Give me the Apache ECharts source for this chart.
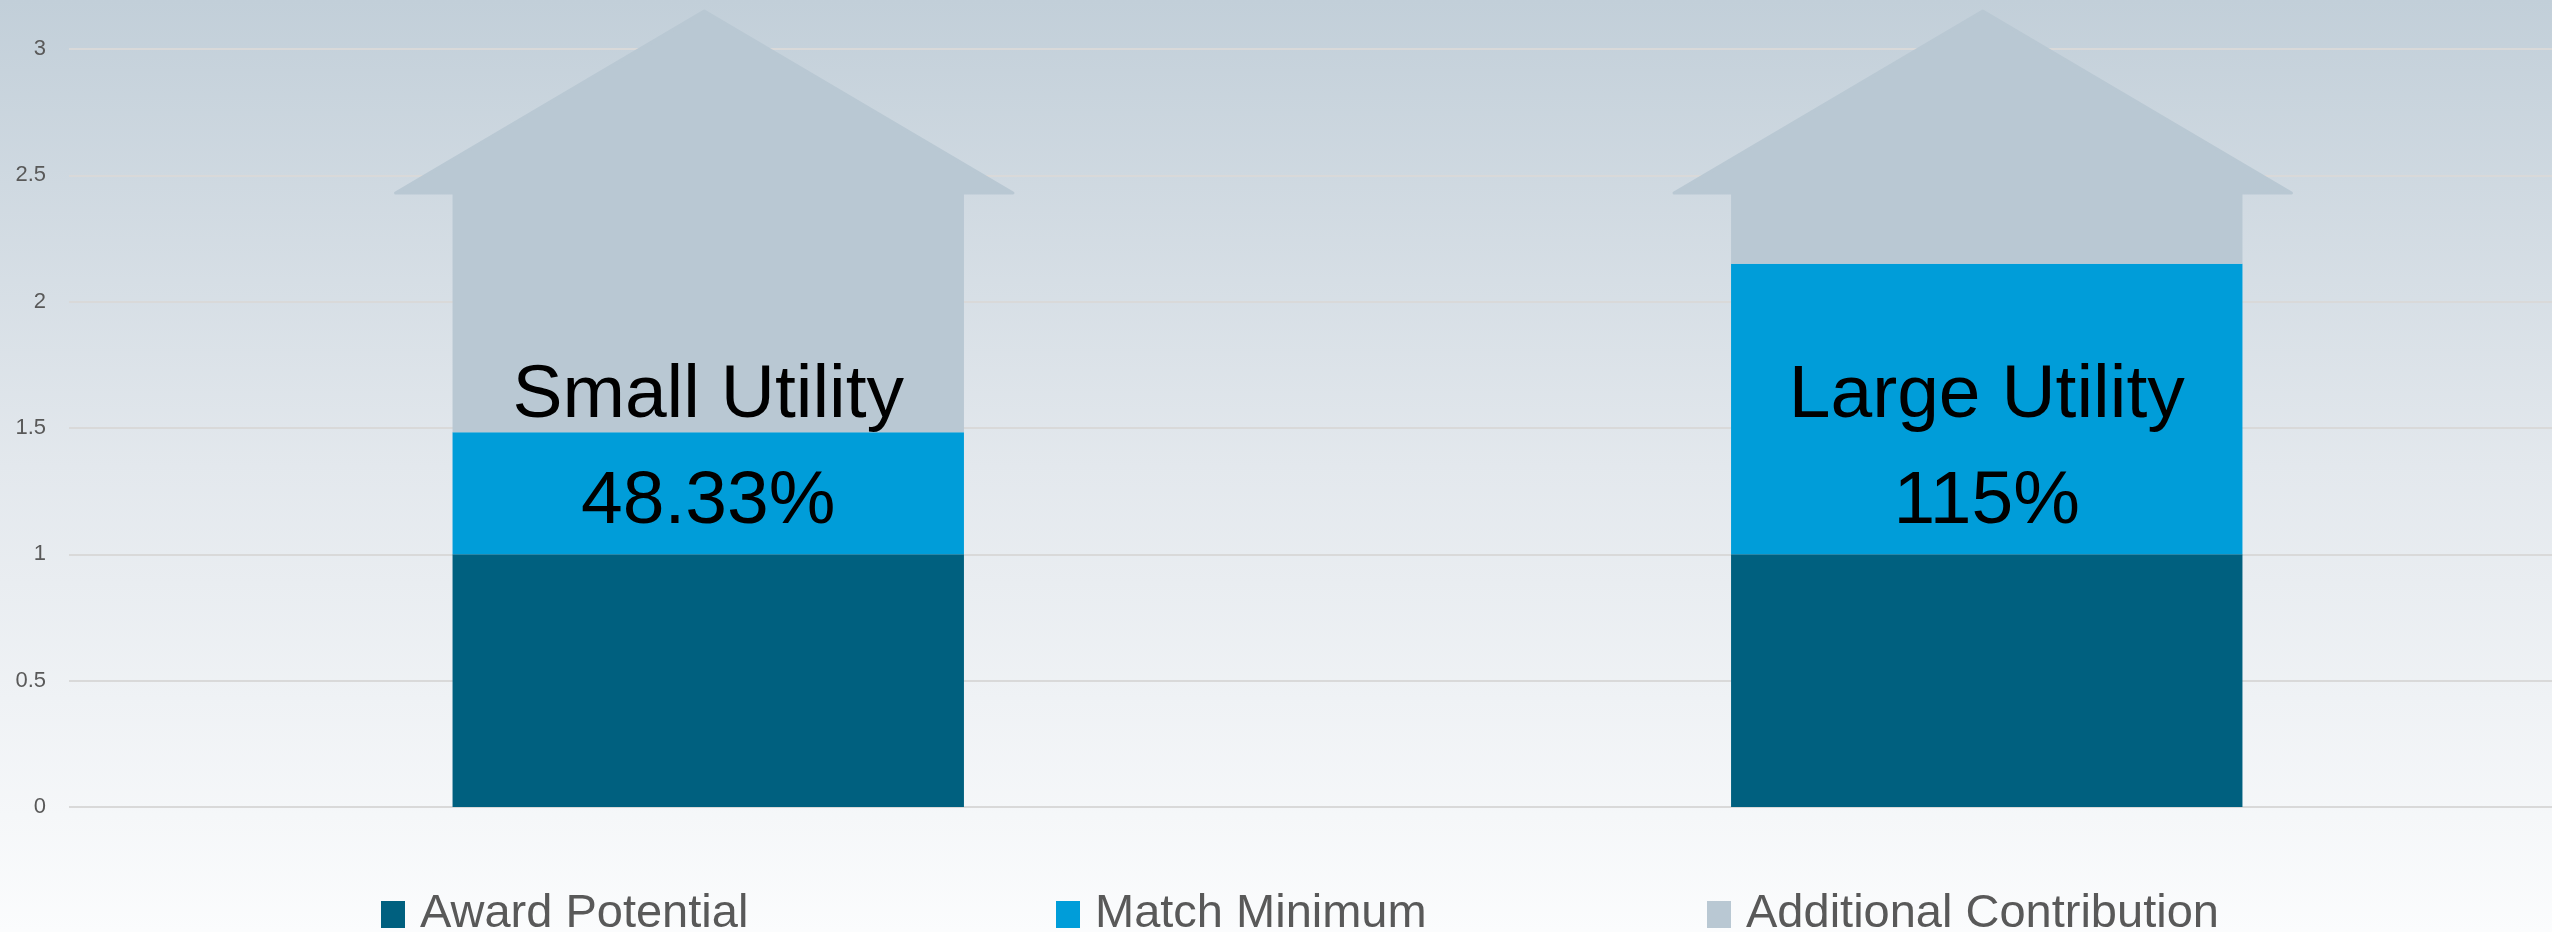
<!DOCTYPE html>
<html lang="en">
<head>
<meta charset="UTF-8">
<title>Utility Contribution</title>
<script src="https://cdn.jsdelivr.net/npm/echarts@6/dist/echarts.min.js"></script>
<style>
    html, body { margin: 0; padding: 0; }
    #chart { width: 2552px; height: 932px; }
</style>
</head>
<body>
<div id="chart"></div>
<script>
    // data
    const categories = ['Small Utility', 'Large Utility'];
    const awardPotential = [1, 1];
    const matchMinimum = [0.4833, 1.15];
    const additionalContribution = [0.95, 0.28];
    const arrowBase = [2.43, 2.43];
    const arrowTip = [3.15, 3.15];
    const matchLabels = ['48.33%', '115%'];
    const yMin = 0, yMax = 3, yStep = 0.5;

    const DARK = '#00607F';
    const BLUE = '#009DD9';
    const GRAY = '#B9C8D3';
    const TEXT = '#595959';
    const FONT = '"Liberation Sans", Arial, sans-serif';
    const LABEL_VALUE = 1.415;   // vertical anchor of the in-bar captions

    const chart = echarts.init(document.getElementById('chart'), null, {renderer: 'canvas'});

    function legendFor(name, left){
        return {
            data: [name],
            left: left,
            top: 886,
            icon: 'rect',
            itemWidth: 24,
            itemHeight: 27,
            textStyle: {fontSize: 47, color: TEXT, fontFamily: FONT, padding: [0, 0, 0, 10]}
        };
    }

    const option = {
        animation: false,
        backgroundColor: new echarts.graphic.LinearGradient(0, 0, 0, 1, [
            {offset: 0, color: '#C2CFD9'},
            {offset: 0.5, color: '#E3E8ED'},
            {offset: 1, color: '#FBFCFD'}
        ]),
        grid: {left: 69, right: -74, top: 49, bottom: 125, outerBoundsMode: 'none'},
        legend: [
            legendFor('Award Potential', 376),
            legendFor('Match Minimum', 1051),
            legendFor('Additional Contribution', 1702)
        ],
        xAxis: {
            type: 'category',
            data: categories,
            axisLine: {show: false},
            axisTick: {show: false},
            axisLabel: {show: false}
        },
        yAxis: {
            type: 'value',
            min: yMin,
            max: yMax,
            interval: yStep,
            axisLabel: {color: TEXT, fontSize: 22, fontFamily: FONT, margin: 23},
            splitLine: {lineStyle: {color: '#D9D9D9', width: 2}}
        },
        series: [
            {name: 'Award Potential', type: 'bar', stack: 'total', barCategoryGap: '60%',
             itemStyle: {color: DARK}, data: awardPotential},
            {name: 'Match Minimum', type: 'bar', stack: 'total',
             itemStyle: {color: BLUE}, data: matchMinimum},
            {name: 'Additional Contribution', type: 'bar', stack: 'total',
             itemStyle: {color: GRAY}, data: additionalContribution},
            {
                name: 'arrowHead',
                type: 'custom',
                clip: false,
                z: 3,
                data: categories.map((c, i) => [i, arrowBase[i], arrowTip[i]]),
                renderItem(params, api){
                    const base = api.coord([api.value(0), api.value(1)]);
                    const tip = api.coord([api.value(0), api.value(2)]);
                    const half = api.size([1, 0])[0] * 0.4 * 1.223 / 2;
                    return {
                        type: 'polygon',
                        shape: {points: [[base[0] - half, base[1]], [tip[0] - 4, tip[1]], [base[0] + half - 8, base[1]]]},
                        style: {fill: GRAY, stroke: GRAY, lineWidth: 3, lineJoin: 'round'}
                    };
                }
            },
            {
                name: 'captions',
                type: 'custom',
                clip: false,
                z: 5,
                data: categories.map((c, i) => [i]),
                renderItem(params, api){
                    const i = params.dataIndex;
                    const p = api.coord([api.value(0), LABEL_VALUE]);
                    return {
                        type: 'text',
                        x: p[0],
                        y: p[1],
                        style: {
                            text: categories[i] + '\n' + matchLabels[i],
                            fill: '#000',
                            fontSize: 75,
                            fontFamily: FONT,
                            lineHeight: 106,
                            align: 'center',
                            verticalAlign: 'middle'
                        }
                    };
                }
            }
        ]
    };
    chart.setOption(option);
</script>
</body>
</html>
